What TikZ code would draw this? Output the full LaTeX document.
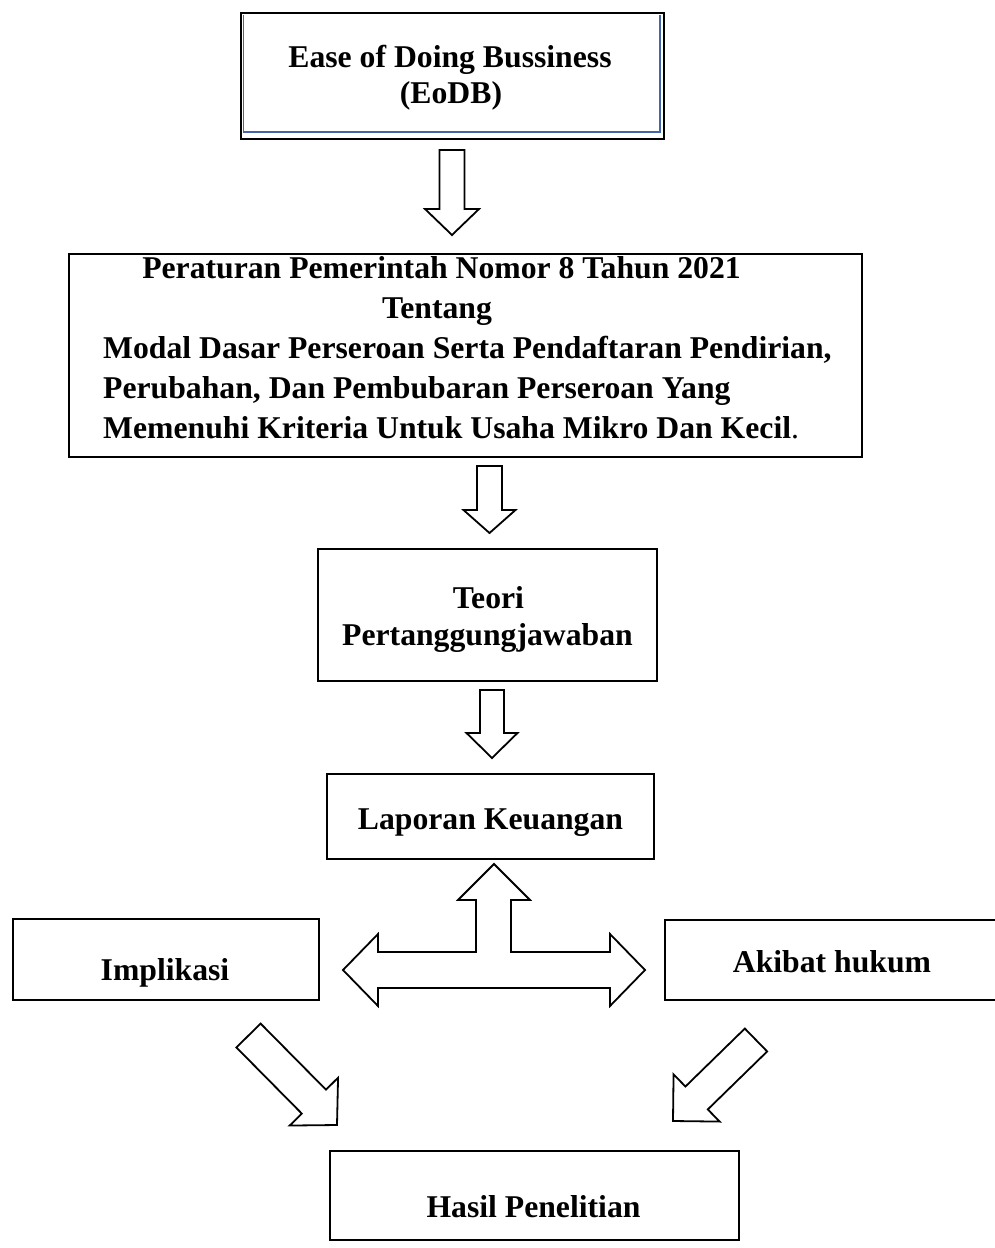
\documentclass[tikz,border=0pt]{standalone}
\usepackage{fontspec}
\setmainfont{Liberation Serif}
\usetikzlibrary{calc}
\definecolor{eodbblue}{RGB}{68,100,170}
\tikzset{
  boxline/.style={draw=black, line width=2pt},
  blockarr/.style={draw=black, line width=1.8pt, fill=white, line join=miter},
  lbl/.style={inner sep=0pt, font=\fontsize{31.7}{37}\selectfont\bfseries},
}
\newcommand{\vdownarrow}[6]{%
  \draw[blockarr] (#1-#5,#2) -- (#1+#5,#2) -- (#1+#5,#3) -- (#1+#6,#3) -- (#1,#4) -- (#1-#6,#3) -- (#1-#5,#3) -- cycle;}
% diagonal block arrow: rear-midpoint name, tip name, shaft length, shaft half width, head half width
\newcommand{\diagarrow}[5]{%
  \coordinate (#1m) at ($(#1)!#3pt!(#2)$);
  \draw[blockarr] ($(#1)!#4pt!90:(#2)$) -- ($(#1m)!#4pt!90:(#2)$) -- ($(#1m)!#5pt!90:(#2)$) -- (#2)
     -- ($(#1m)!#5pt!-90:(#2)$) -- ($(#1m)!#4pt!-90:(#2)$) -- ($(#1)!#4pt!-90:(#2)$) -- cycle;}
\begin{document}
\begin{tikzpicture}[x=1pt,y=-1pt]
\useasboundingbox (0,0) rectangle (995,1248);
% ---- EoDB box
\draw[line width=2pt] (241,13) rectangle (664,139);
\draw[eodbblue, line width=1.6pt] (243.5,15) -- (243.5,132) -- (660,132) -- (660,15);
\node[lbl, anchor=base] (eodb1) at (450,67) {Ease of Doing Bussiness};
\node[lbl, anchor=base] (eodb2) at (451,103) {(EoDB)};
\coordinate (eodb) at (452,139);
% ---- arrow 1
\vdownarrow{452}{150}{209}{235}{12.5}{27}
% ---- Peraturan box
\draw[boxline] (69,254) rectangle (862,457);
\node[lbl, anchor=base] (pp1) at (441.5,278) {Peraturan Pemerintah Nomor 8 Tahun 2021};
\node[lbl, anchor=base] (pp2) at (437,318) {Tentang};
\node[lbl, anchor=base west] (pp3) at (103,358) {Modal Dasar Perseroan Serta Pendaftaran Pendirian,};
\node[lbl, anchor=base west] (pp4) at (103,398) {Perubahan, Dan Pembubaran Perseroan Yang};
\node[lbl, anchor=base west] (pp5) at (103,438) {Memenuhi Kriteria Untuk Usaha Mikro Dan Kecil{\mdseries.}};
% ---- arrow 2
\vdownarrow{489.5}{466}{510}{533}{12.5}{26}
% ---- Teori box
\draw[boxline] (318,549) rectangle (657,681);
\node[lbl, anchor=base] (teori1) at (488.5,608) {Teori};
\node[lbl, anchor=base] (teori2) at (487.5,645) {Pertanggungjawaban};
% ---- arrow 3
\vdownarrow{492}{690}{733}{758}{12}{25.5}
% ---- Laporan box
\draw[boxline] (327,774) rectangle (654,859);
\node[lbl, anchor=base] (lap) at (490.5,829) {Laporan Keuangan};
% ---- three-headed arrow
\draw[blockarr] (494,864) -- (530,900) -- (511,900) -- (511,952) -- (610,952) -- (610,934)
  -- (645,970) -- (610,1006) -- (610,988) -- (378,988) -- (378,1006) -- (343,970)
  -- (378,934) -- (378,952) -- (476,952) -- (476,900) -- (458,900) -- cycle;
% ---- Implikasi box
\draw[boxline] (13,919) rectangle (319,1000);
\node[lbl, anchor=base] (impl) at (165,980) {Implikasi};
% ---- Akibat hukum box
\draw[boxline] (1005,920) -- (665,920) -- (665,1000) -- (1005,1000);
\node[lbl, anchor=base] (akibat) at (832,972) {Akibat hukum};
% ---- diagonal arrows
\coordinate (la) at (248.5,1035.5);
\coordinate (lt) at (337,1125);
\diagarrow{la}{lt}{93}{17}{34}
\coordinate (ra) at (756,1040);
\coordinate (rt) at (673,1121);
\diagarrow{ra}{rt}{83}{16}{33}
% ---- Hasil box
\draw[boxline] (330,1151) rectangle (739,1240);
\node[lbl, anchor=base] (hasil) at (533.5,1217) {Hasil Penelitian};
\end{tikzpicture}
\end{document}
